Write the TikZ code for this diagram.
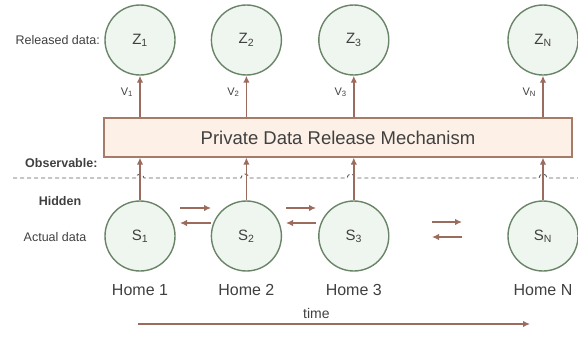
\documentclass[tikz,border=0pt]{standalone}
\usepackage{fontspec}
\setmainfont{Liberation Sans}
\usepackage{tikz}
\usetikzlibrary{positioning,arrows.meta}
\definecolor{ringgreen}{HTML}{6A8467}
\definecolor{ringfill}{HTML}{EFF5EF}
\definecolor{linkbrown}{HTML}{9B6B5D}
\definecolor{boxedge}{HTML}{A67C69}
\definecolor{boxfill}{HTML}{FDF1E7}
\definecolor{labelgray}{HTML}{404040}

\begin{document}
\begin{tikzpicture}[x=1pt,y=-1pt]
		\tikzstyle{state}=[circle, minimum size=70pt, inner sep=0pt, line width=1.4pt, draw=ringgreen, fill=ringfill, text=labelgray, font=\fontsize{15}{18}\selectfont]
		\tikzstyle{link}=[->, line width=1.4pt, draw=linkbrown]
		\tikzstyle{side}=[text=labelgray, font=\fontsize{12.5}{15}\selectfont]
		\tikzset{>={Latex[length=7pt,width=6.5pt]}}
		\useasboundingbox (0,0) rectangle (578,338);
		% released data row
		\node[state] (z1) at (140,40) {Z\textsubscript{1}};
		\node[state, right=35pt of z1] (z2) {Z\textsubscript{2}};
		\node[state, right=36pt of z2] (z3) {Z\textsubscript{3}};
		\node[state] (zN) at (543,40) {Z\textsubscript{N}};
		% actual data row
		\node[state] (s1) at (140,236) {S\textsubscript{1}};
		\node[state, right=35pt of s1] (s2) {S\textsubscript{2}};
		\node[state, right=36pt of s2] (s3) {S\textsubscript{3}};
		\node[state] (sN) at (543,236) {S\textsubscript{N}};
		\node[rectangle, minimum width=468pt, minimum height=39pt, line width=1.2pt, draw=boxedge, fill=boxfill, text=labelgray, font=\fontsize{18.5}{22}\selectfont] (mech) at (338,137.5) {Private Data Release Mechanism};
		% observable / hidden border
		\draw[labelgray!85, line width=0.9pt, dash pattern=on 4pt off 3pt] (13,178) foreach \x in {140,245,351,543} { -- (\x-4,178) arc[start angle=180, end angle=360, radius=4] } -- (578,178);
		\foreach \n in {1,2,3,N} {
			\draw[link] (s\n) -- (s\n |- mech.south);
			\draw[link] (z\n |- mech.north) -- (z\n) node[pos=0.6, left=3pt, side, font=\fontsize{11}{13}\selectfont]{V\textsubscript{\n}};
			\node[side, below=9pt of s\n, font=\fontsize{16}{19}\selectfont] (home\n) {Home \n};
		}
		\foreach \xa/\xb/\ya in {180/211/208, 286/316/208, 432/462/222} {
			\draw[link] (\xa,\ya) -- (\xb,\ya);
			\draw[link] (\xb,\ya+15) -- (\xa,\ya+15);
		}
		\node[side, left=1pt of z1] (released) {Released data:};
		\node[side, anchor=east, font=\fontsize{12.5}{15}\selectfont\bfseries] (observable) at (101,163) {Observable:};
		\node[side, font=\fontsize{12.5}{15}\selectfont\bfseries] (hidden) at (60,201) {Hidden};
		\node[side] (actual) at (55,237) {Actual data};
		% time axis
		\coordinate (tstart) at (138,324);
		\coordinate (tend) at (530,324);
		\draw[link] (tstart) -- (tend) node[pos=0.455, above=1pt, side, font=\fontsize{14}{17}\selectfont] (time) {time};
	\end{tikzpicture}
\end{document}
